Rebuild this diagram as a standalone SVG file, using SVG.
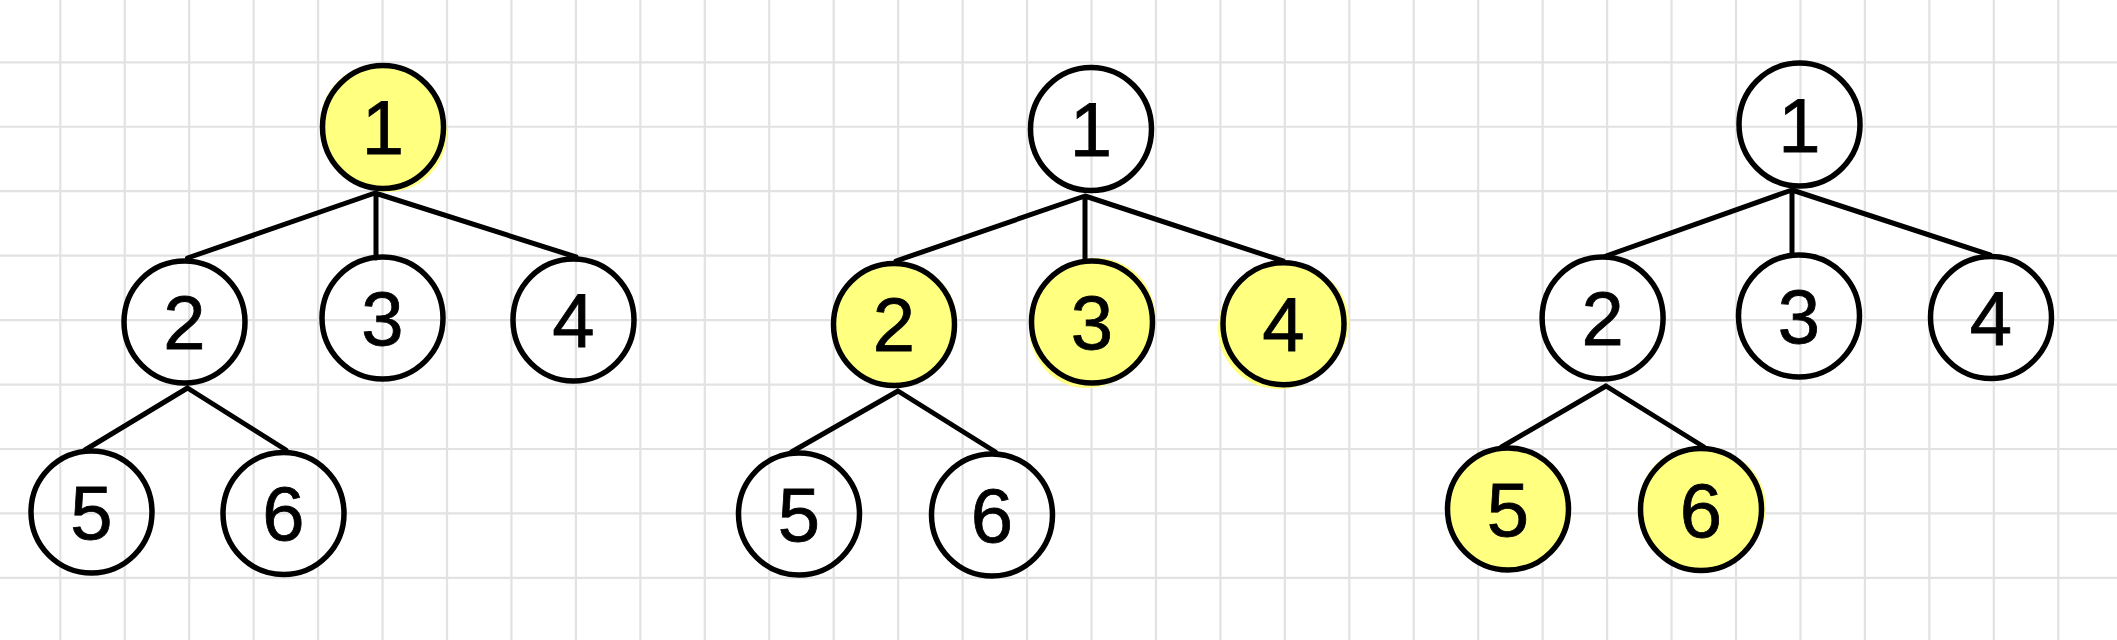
<svg xmlns="http://www.w3.org/2000/svg" width="2117" height="640" viewBox="0 0 2117 640">
<style>
.grid{fill:none;stroke:#e2e2e2;stroke-width:2.2}
.node{fill:none;stroke:#000;stroke-width:5.5}
.hl{fill:#ffff80;stroke:none}
.edge{fill:none;stroke:#000;stroke-width:5;stroke-linecap:round;stroke-linejoin:round}
.lbl{font-family:"Liberation Sans",Arial,sans-serif;font-size:76px;fill:#000;text-anchor:middle;stroke:#000;stroke-width:0.8}
</style>
<rect width="2117" height="640" fill="#fff"/>
<g id="grid">
<path class="grid" d="M60.3,0V640M124.75,0V640M189.2,0V640M253.65,0V640M318.1,0V640M382.55,0V640M447,0V640M511.45,0V640M575.9,0V640M640.35,0V640M704.8,0V640M769.25,0V640M833.7,0V640M898.15,0V640M962.6,0V640M1027.05,0V640M1091.5,0V640M1155.95,0V640M1220.4,0V640M1284.85,0V640M1349.3,0V640M1413.75,0V640M1478.2,0V640M1542.65,0V640M1607.1,0V640M1671.55,0V640M1736,0V640M1800.45,0V640M1864.9,0V640M1929.35,0V640M1993.8,0V640M2058.25,0V640"/>
<path class="grid" d="M0,62.3H2117M0,126.75H2117M0,191.2H2117M0,255.65H2117M0,320.1H2117M0,384.55H2117M0,449H2117M0,513.45H2117M0,577.9H2117"/>
</g>
<g id="connectors">
<path class="edge" d="M375,193L187.5,258M376,193V258M375,193L576,257M187.5,388L85,450M187.5,388L286,450"/>
<path class="edge" d="M1085,196L896,261M1085,196V260M1085,196L1283,261M898,391L791.5,452M898,391L995.5,452"/>
<path class="edge" d="M1792,190L1606,256M1792,190V254M1792,190L1990,255M1606,386L1501.5,447M1606,386L1704,447"/>
</g>
<g id="t1-n1"><ellipse class="hl" cx="383" cy="127" rx="61" ry="62"/><ellipse class="hl" cx="388" cy="133" rx="59" ry="59"/><ellipse class="hl" cx="380" cy="124" rx="60" ry="60"/><ellipse class="node" cx="383" cy="127" rx="60.5" ry="61.5"/><text class="lbl" x="383" y="154">1</text></g>
<g id="t1-n2"><ellipse class="node" cx="184.5" cy="322" rx="60.5" ry="61"/><text class="lbl" x="184.5" y="349">2</text></g>
<g id="t1-n3"><ellipse class="node" cx="382.5" cy="318" rx="60.5" ry="61"/><text class="lbl" x="382.5" y="345">3</text></g>
<g id="t1-n4"><ellipse class="node" cx="573.5" cy="320" rx="60.5" ry="61"/><text class="lbl" x="573.5" y="347">4</text></g>
<g id="t1-n5"><ellipse class="node" cx="91.5" cy="512" rx="60.5" ry="61"/><text class="lbl" x="91.5" y="539">5</text></g>
<g id="t1-n6"><ellipse class="node" cx="283.5" cy="513.5" rx="60.5" ry="61"/><text class="lbl" x="283.5" y="540">6</text></g>
<g id="t2-n1"><ellipse class="node" cx="1091" cy="129" rx="60.5" ry="61.5"/><text class="lbl" x="1091" y="156">1</text></g>
<g id="t2-n2"><ellipse class="hl" cx="894" cy="324.5" rx="61" ry="61.5"/><ellipse class="hl" cx="898" cy="322" rx="59" ry="59"/><ellipse class="hl" cx="891" cy="328" rx="58" ry="58"/><ellipse class="node" cx="894" cy="324.5" rx="60.5" ry="61"/><text class="lbl" x="894" y="351">2</text></g>
<g id="t2-n3"><ellipse class="hl" cx="1092" cy="322" rx="61" ry="61.5"/><ellipse class="hl" cx="1097" cy="316" rx="58" ry="58"/><ellipse class="hl" cx="1087" cy="328" rx="58" ry="60"/><ellipse class="node" cx="1092" cy="322" rx="60.5" ry="61"/><text class="lbl" x="1092" y="349">3</text></g>
<g id="t2-n4"><ellipse class="hl" cx="1283.5" cy="323.7" rx="61" ry="61.5"/><ellipse class="hl" cx="1279" cy="329" rx="61" ry="60"/><ellipse class="hl" cx="1288" cy="322" rx="61" ry="58"/><ellipse class="node" cx="1283.5" cy="323.7" rx="60.5" ry="61"/><text class="lbl" x="1283.5" y="350.5">4</text></g>
<g id="t2-n5"><ellipse class="node" cx="799" cy="514" rx="60.5" ry="61"/><text class="lbl" x="799" y="541">5</text></g>
<g id="t2-n6"><ellipse class="node" cx="992" cy="515" rx="60.5" ry="61"/><text class="lbl" x="992" y="542">6</text></g>
<g id="t3-n1"><ellipse class="node" cx="1799.5" cy="124.5" rx="60.5" ry="61.5"/><text class="lbl" x="1799.5" y="151.5">1</text></g>
<g id="t3-n2"><ellipse class="node" cx="1602.6" cy="318" rx="60.5" ry="61"/><text class="lbl" x="1602.6" y="345">2</text></g>
<g id="t3-n3"><ellipse class="node" cx="1799" cy="316" rx="60.5" ry="61"/><text class="lbl" x="1799" y="343">3</text></g>
<g id="t3-n4"><ellipse class="node" cx="1991" cy="317.5" rx="60.5" ry="61"/><text class="lbl" x="1991" y="344.5">4</text></g>
<g id="t3-n5"><ellipse class="hl" cx="1508" cy="509" rx="61" ry="61.5"/><ellipse class="hl" cx="1511" cy="511" rx="60" ry="58"/><ellipse class="node" cx="1508" cy="509" rx="60.5" ry="61"/><text class="lbl" x="1508" y="536">5</text></g>
<g id="t3-n6"><ellipse class="hl" cx="1701" cy="509.5" rx="61" ry="61.5"/><ellipse class="hl" cx="1706" cy="507" rx="60" ry="58"/><ellipse class="hl" cx="1697" cy="505" rx="58" ry="58"/><ellipse class="node" cx="1701" cy="509.5" rx="60.5" ry="61"/><text class="lbl" x="1701" y="536.5">6</text></g>
</svg>
